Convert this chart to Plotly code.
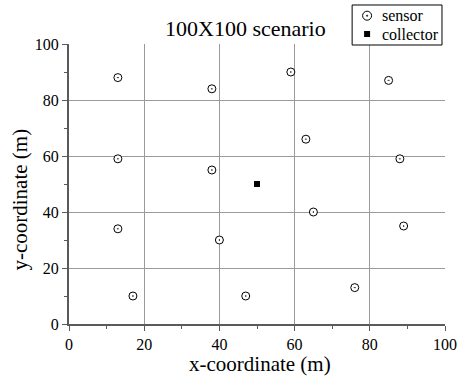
import plotly.graph_objects as go

# sensor node positions (m)
sensor_x = [13, 38, 59, 85, 13, 38, 63, 88, 13, 40, 65, 89, 17, 47, 76]
sensor_y = [88, 84, 90, 87, 59, 55, 66, 59, 34, 30, 40, 35, 10, 10, 13]

# data collector position (m)
collector_x = [50]
collector_y = [50]

tick_vals = [0, 20, 40, 60, 80, 100]
series_names = ["sensor", "collector"]

FONT = "Liberation Serif"

fig = go.Figure()
fig.add_trace(go.Scatter(
    x=sensor_x, y=sensor_y, mode="markers", name=series_names[0],
    marker=dict(symbol="circle-dot", size=8, color="white",
                line=dict(color="black", width=1)),
))
fig.add_trace(go.Scatter(
    x=collector_x, y=collector_y, mode="markers", name=series_names[1],
    marker=dict(symbol="square", size=6, color="black",
                line=dict(color="black", width=0)),
))

axis_common = dict(
    range=[0, 100], tickvals=tick_vals, showgrid=True, gridcolor="#9a9a9a",
    gridwidth=1, showline=True, linecolor="#5a5a5a", linewidth=2,
    ticks="outside", ticklen=5, tickcolor="#5a5a5a", tickwidth=1,
    zeroline=False, tickfont=dict(family=FONT, size=16, color="black"),
    minor=dict(dtick=10, ticks="outside", ticklen=3, tickcolor="#5a5a5a",
               showgrid=False),
    fixedrange=True, automargin=False,
)

# boxed key in the top-right corner, above the plotting area
key_x0, key_x1, key_y0, key_y1 = 0.7530, 0.9920, 0.9964, 1.1393
key_sym_x = 0.7928
key_text_x = 0.8274
key_rows_y = [1.1011, 1.0357]

shapes = [
    dict(type="rect", xref="paper", yref="paper", x0=key_x0, x1=key_x1,
         y0=key_y0, y1=key_y1, line=dict(color="black", width=1),
         fillcolor="white", layer="above"),
    # open circle with centre dot
    dict(type="circle", xref="paper", yref="paper", xsizemode="pixel",
         ysizemode="pixel", xanchor=key_sym_x, yanchor=key_rows_y[0],
         x0=-4.5, x1=4.5, y0=-4.5, y1=4.5, line=dict(color="black", width=1),
         fillcolor="white", layer="above"),
    dict(type="circle", xref="paper", yref="paper", xsizemode="pixel",
         ysizemode="pixel", xanchor=key_sym_x, yanchor=key_rows_y[0],
         x0=-0.7, x1=0.7, y0=-0.7, y1=0.7, line=dict(color="black", width=0.5),
         fillcolor="black", layer="above"),
    # filled square
    dict(type="rect", xref="paper", yref="paper", xsizemode="pixel",
         ysizemode="pixel", xanchor=key_sym_x, yanchor=key_rows_y[1],
         x0=-3, x1=3, y0=-3, y1=3, line=dict(color="black", width=0),
         fillcolor="black", layer="above"),
]

annotations = [
    dict(text="100X100 scenario", xref="paper", yref="paper", x=0.4688,
         y=1.0536, xanchor="center", yanchor="middle", showarrow=False,
         font=dict(family=FONT, size=22, color="black")),
    dict(text="x-coordinate (m)", xref="paper", yref="paper", x=0.5086,
         y=-0.1429, xanchor="center", yanchor="middle", showarrow=False,
         font=dict(family=FONT, size=21, color="black")),
    dict(text="y-coordinate (m)", xref="paper", yref="paper", x=-0.1315,
         y=0.4429, xanchor="center", yanchor="middle", textangle=-90,
         showarrow=False, font=dict(family=FONT, size=21, color="black")),
]
for name, ky in zip(series_names, key_rows_y):
    annotations.append(dict(
        text=name, xref="paper", yref="paper", x=key_text_x, y=ky,
        xanchor="left", yanchor="middle", showarrow=False,
        font=dict(family=FONT, size=16, color="black")))

fig.update_layout(
    width=457, height=381,
    margin=dict(l=68.5, r=12, t=44, b=57, autoexpand=False),
    paper_bgcolor="white", plot_bgcolor="white",
    font=dict(family=FONT, color="black"),
    showlegend=False,
    xaxis=axis_common,
    yaxis=axis_common,
    shapes=shapes,
    annotations=annotations,
)

fig.write_html("out.html")
